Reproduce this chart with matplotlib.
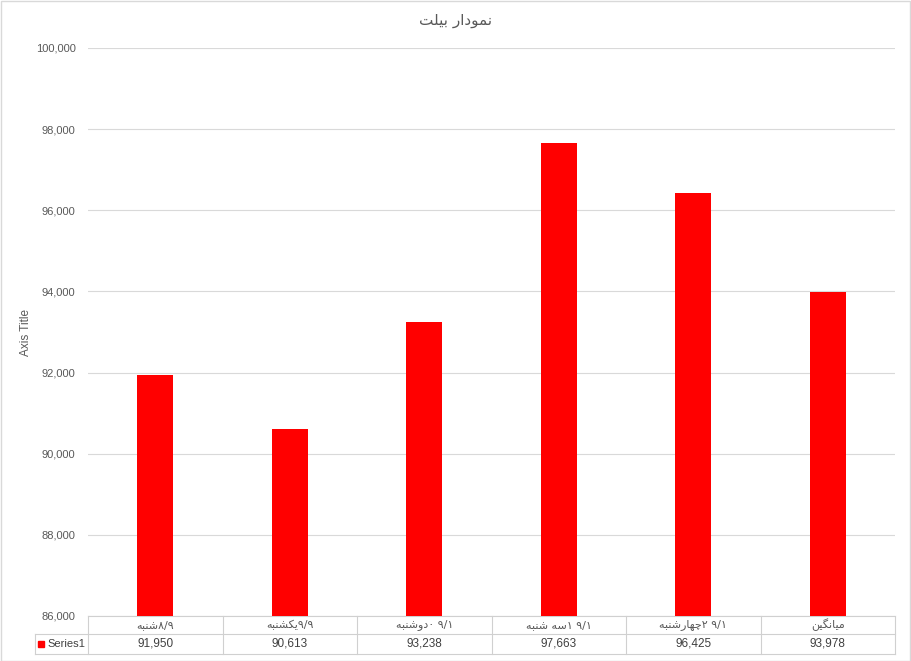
import matplotlib
matplotlib.use("Agg")
import matplotlib.pyplot as plt
from matplotlib.patches import Rectangle
from matplotlib.lines import Line2D
import matplotlib.transforms as mtransforms

# data
days = ["شنبه", "یکشنبه", "دوشنبه", "سه شنبه", "چهارشنبه", "میانگین"]
dates = ["۸/۹", "۹/۹", "۰ ۹/۱", "۱ ۹/۱", "۲ ۹/۱", ""]
values = [91950, 90613, 93238, 97663, 96425, 93978]
series_name = "Series1"
title = "نمودار بیلت"
y_title = "Axis Title"
y_ticks = [86000, 88000, 90000, 92000, 94000, 96000, 98000, 100000]

# contextual forms (isolated, final, initial, medial) for the letters used
FORMS = {
    'ا': (0xFE8D, 0xFE8E, None, None),
    'ب': (0xFE8F, 0xFE90, 0xFE91, 0xFE92),
    'ت': (0xFE95, 0xFE96, 0xFE97, 0xFE98),
    'چ': (0xFB7A, 0xFB7B, 0xFB7C, 0xFB7D),
    'د': (0xFEA9, 0xFEAA, None, None),
    'ر': (0xFEAD, 0xFEAE, None, None),
    'س': (0xFEB1, 0xFEB2, 0xFEB3, 0xFEB4),
    'ش': (0xFEB5, 0xFEB6, 0xFEB7, 0xFEB8),
    'ک': (0xFB8E, 0xFB8F, 0xFB90, 0xFB91),
    'گ': (0xFB92, 0xFB93, 0xFB94, 0xFB95),
    'ل': (0xFEDD, 0xFEDE, 0xFEDF, 0xFEE0),
    'م': (0xFEE1, 0xFEE2, 0xFEE3, 0xFEE4),
    'ن': (0xFEE5, 0xFEE6, 0xFEE7, 0xFEE8),
    'و': (0xFEED, 0xFEEE, None, None),
    'ه': (0xFEE9, 0xFEEA, 0xFEEB, 0xFEEC),
    'ی': (0xFBFC, 0xFBFD, 0xFEF3, 0xFEF4),
}


def shape(text):
    # join letters and reverse them for left-to-right drawing
    out = []
    for i, ch in enumerate(text):
        if ch not in FORMS:
            out.append(ch)
            continue
        prev = text[i - 1] if i > 0 else None
        nxt = text[i + 1] if i + 1 < len(text) else None
        join_prev = prev in FORMS and FORMS[prev][2] is not None
        join_next = nxt in FORMS and FORMS[ch][2] is not None
        iso, fin, ini, med = FORMS[ch]
        if join_prev and join_next:
            code = med
        elif join_prev:
            code = fin
        elif join_next:
            code = ini
        else:
            code = iso
        out.append(chr(code))
    return "".join(reversed(out))


plt.rcParams['font.family'] = ['Liberation Sans', 'DejaVu Sans']

W, H = 911, 661
fig = plt.figure(figsize=(W / 100, H / 100), dpi=100)
left, right, top, bottom = 88, 895, 48, 616
ax = fig.add_axes([left / W, 1 - bottom / H, (right - left) / W, (bottom - top) / H])

grid_c = "#d9d9d9"
text_c = "#595959"

x = list(range(len(values)))
ax.bar(x, values, width=0.265, color="#ff0000", zorder=3)
ax.set_xlim(-0.5, len(values) - 0.5)
ax.set_ylim(y_ticks[0], y_ticks[-1])
ax.set_yticks(y_ticks)
ax.set_yticklabels([f"{v:,}" for v in y_ticks], color=text_c, fontsize=8)
ax.tick_params(axis='y', length=0, pad=9)
ax.set_xticks([])
ax.grid(axis='y', color=grid_c, linewidth=0.8, zorder=0)
for s in ax.spines.values():
    s.set_visible(False)

ax.set_ylabel(y_title, color=text_c, fontsize=8.5)
ax.yaxis.set_label_coords(-(left - 32) / (right - left), 0.5)

fig.text(0.5, 1 - 20 / H, shape(title), ha='center', va='center',
         fontsize=11, color=text_c, family='DejaVu Sans')

# data table under the plot
ah = bottom - top
r1 = -18 / ah
r2 = -38 / ah
trans = mtransforms.blended_transform_factory(ax.transData, ax.transAxes)
tbl_c = "#d0d0d0"
leg_x = (35 - left) / (right - left) * len(values) - 0.5


def hline(x0, x1, y):
    ax.add_line(Line2D([x0, x1], [y, y], transform=trans, color=tbl_c,
                       linewidth=0.8, clip_on=False))


def vline(xx, y0, y1):
    ax.add_line(Line2D([xx, xx], [y0, y1], transform=trans, color=tbl_c,
                       linewidth=0.8, clip_on=False))


hline(-0.5, len(values) - 0.5, 0)
hline(leg_x, len(values) - 0.5, r1)
hline(leg_x, len(values) - 0.5, r2)
vline(leg_x, r1, r2)
for i in range(len(values) + 1):
    vline(i - 0.5, 0, r2)

for i, (d, dt, v) in enumerate(zip(days, dates, values)):
    ax.text(i, r1 / 2, shape(d) + dt, transform=trans, ha='center', va='center',
            fontsize=8, color=text_c, family='DejaVu Sans')
    ax.text(i, (r1 + r2) / 2, f"{v:,}", transform=trans, ha='center',
            va='center', fontsize=8.5, color="#404040")

fig.patches.append(Rectangle((38 / W, 1 - 647 / H), 6 / W, 6 / H,
                             transform=fig.transFigure, color="#ff0000"))
fig.text(47 / W, 1 - 644 / H, series_name, ha='left', va='center',
         fontsize=8, color="#404040")

# chart border
fig.patches.append(Rectangle((0.5 / W, 0.5 / H), 1 - 1.5 / W, 1 - 1.5 / H,
                             transform=fig.transFigure, fill=False,
                             edgecolor="#d9d9d9", linewidth=1))

fig.savefig("out.png", dpi=100)
